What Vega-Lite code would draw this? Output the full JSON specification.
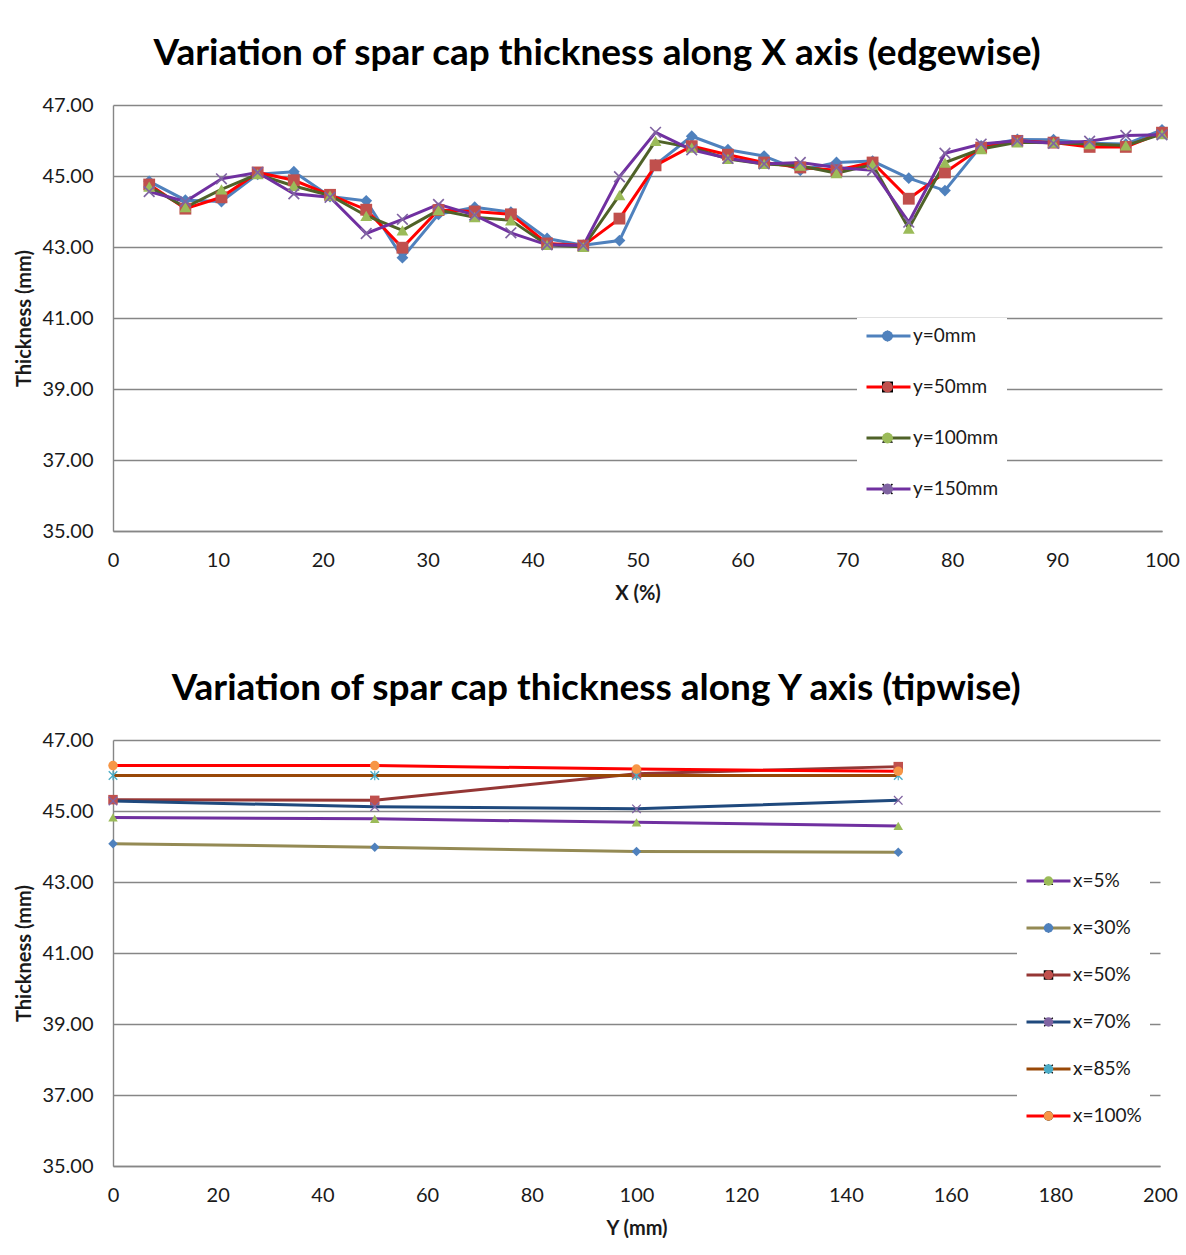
{
  "$schema": "https://vega.github.io/schema/vega-lite/v6.json",
  "background": "white",
  "padding": {"left": 14, "top": 35, "right": 0, "bottom": 0},
  "spacing": 67,
  "config": {
    "font": "Lato",
    "view": {"stroke": null},
    "title": {"font": "Lato", "fontSize": 37, "fontWeight": "bold", "color": "#000000", "anchor": "middle", "frame": "bounds", "offset": 22},
    "axis": {
      "labelFont": "Lato", "labelFontSize": 20, "labelColor": "#1a1a1a",
      "titleFont": "Lato", "titleFontSize": 20, "titleFontWeight": "bold", "titleColor": "#1a1a1a",
      "domainColor": "#868686", "domainWidth": 1.4,
      "gridColor": "#868686", "gridWidth": 1.4, "gridOpacity": 1,
      "ticks": false, "tickSize": 0
    },
    "legend": {"labelFont": "Lato", "labelFontSize": 19, "labelColor": "#1a1a1a"}
  },
  "resolve": {"scale": {"color": "independent", "fill": "independent", "shape": "independent", "x": "independent", "y": "independent"}, "legend": {"color": "independent", "fill": "independent", "shape": "independent"}},
  "vconcat": [
    {
      "width": 1049,
      "height": 426,
      "title": {"text": "Variation of spar cap thickness along X axis (edgewise)"},
      "data": {"values": [
        {"x": 3.45, "series": "y=0mm", "t": 44.85}, {"x": 3.45, "series": "y=50mm", "t": 44.76}, {"x": 3.45, "series": "y=100mm", "t": 44.70}, {"x": 3.45, "series": "y=150mm", "t": 44.56},
        {"x": 6.90, "series": "y=0mm", "t": 44.32}, {"x": 6.90, "series": "y=50mm", "t": 44.08}, {"x": 6.90, "series": "y=100mm", "t": 44.12}, {"x": 6.90, "series": "y=150mm", "t": 44.28},
        {"x": 10.34, "series": "y=0mm", "t": 44.28}, {"x": 10.34, "series": "y=50mm", "t": 44.40}, {"x": 10.34, "series": "y=100mm", "t": 44.62}, {"x": 10.34, "series": "y=150mm", "t": 44.92},
        {"x": 13.79, "series": "y=0mm", "t": 45.05}, {"x": 13.79, "series": "y=50mm", "t": 45.10}, {"x": 13.79, "series": "y=100mm", "t": 45.05}, {"x": 13.79, "series": "y=150mm", "t": 45.10},
        {"x": 17.24, "series": "y=0mm", "t": 45.12}, {"x": 17.24, "series": "y=50mm", "t": 44.88}, {"x": 17.24, "series": "y=100mm", "t": 44.72}, {"x": 17.24, "series": "y=150mm", "t": 44.50},
        {"x": 20.69, "series": "y=0mm", "t": 44.42}, {"x": 20.69, "series": "y=50mm", "t": 44.47}, {"x": 20.69, "series": "y=100mm", "t": 44.45}, {"x": 20.69, "series": "y=150mm", "t": 44.40},
        {"x": 24.14, "series": "y=0mm", "t": 44.30}, {"x": 24.14, "series": "y=50mm", "t": 44.05}, {"x": 24.14, "series": "y=100mm", "t": 43.88}, {"x": 24.14, "series": "y=150mm", "t": 43.38},
        {"x": 27.59, "series": "y=0mm", "t": 42.70}, {"x": 27.59, "series": "y=50mm", "t": 42.98}, {"x": 27.59, "series": "y=100mm", "t": 43.47}, {"x": 27.59, "series": "y=150mm", "t": 43.78},
        {"x": 31.03, "series": "y=0mm", "t": 43.92}, {"x": 31.03, "series": "y=50mm", "t": 44.04}, {"x": 31.03, "series": "y=100mm", "t": 44.04}, {"x": 31.03, "series": "y=150mm", "t": 44.20},
        {"x": 34.48, "series": "y=0mm", "t": 44.12}, {"x": 34.48, "series": "y=50mm", "t": 44.00}, {"x": 34.48, "series": "y=100mm", "t": 43.84}, {"x": 34.48, "series": "y=150mm", "t": 43.90},
        {"x": 37.93, "series": "y=0mm", "t": 43.98}, {"x": 37.93, "series": "y=50mm", "t": 43.92}, {"x": 37.93, "series": "y=100mm", "t": 43.75}, {"x": 37.93, "series": "y=150mm", "t": 43.40},
        {"x": 41.38, "series": "y=0mm", "t": 43.24}, {"x": 41.38, "series": "y=50mm", "t": 43.10}, {"x": 41.38, "series": "y=100mm", "t": 43.06}, {"x": 41.38, "series": "y=150mm", "t": 43.06},
        {"x": 44.83, "series": "y=0mm", "t": 43.05}, {"x": 44.83, "series": "y=50mm", "t": 43.04}, {"x": 44.83, "series": "y=100mm", "t": 43.00}, {"x": 44.83, "series": "y=150mm", "t": 43.04},
        {"x": 48.28, "series": "y=0mm", "t": 43.18}, {"x": 48.28, "series": "y=50mm", "t": 43.80}, {"x": 48.28, "series": "y=100mm", "t": 44.46}, {"x": 48.28, "series": "y=150mm", "t": 44.98},
        {"x": 51.72, "series": "y=0mm", "t": 45.32}, {"x": 51.72, "series": "y=50mm", "t": 45.30}, {"x": 51.72, "series": "y=100mm", "t": 45.99}, {"x": 51.72, "series": "y=150mm", "t": 46.23},
        {"x": 55.17, "series": "y=0mm", "t": 46.12}, {"x": 55.17, "series": "y=50mm", "t": 45.84}, {"x": 55.17, "series": "y=100mm", "t": 45.80}, {"x": 55.17, "series": "y=150mm", "t": 45.74},
        {"x": 58.62, "series": "y=0mm", "t": 45.74}, {"x": 58.62, "series": "y=50mm", "t": 45.60}, {"x": 58.62, "series": "y=100mm", "t": 45.48}, {"x": 58.62, "series": "y=150mm", "t": 45.50},
        {"x": 62.07, "series": "y=0mm", "t": 45.56}, {"x": 62.07, "series": "y=50mm", "t": 45.38}, {"x": 62.07, "series": "y=100mm", "t": 45.34}, {"x": 62.07, "series": "y=150mm", "t": 45.34},
        {"x": 65.52, "series": "y=0mm", "t": 45.16}, {"x": 65.52, "series": "y=50mm", "t": 45.24}, {"x": 65.52, "series": "y=100mm", "t": 45.29}, {"x": 65.52, "series": "y=150mm", "t": 45.38},
        {"x": 68.97, "series": "y=0mm", "t": 45.38}, {"x": 68.97, "series": "y=50mm", "t": 45.16}, {"x": 68.97, "series": "y=100mm", "t": 45.08}, {"x": 68.97, "series": "y=150mm", "t": 45.24},
        {"x": 72.41, "series": "y=0mm", "t": 45.42}, {"x": 72.41, "series": "y=50mm", "t": 45.38}, {"x": 72.41, "series": "y=100mm", "t": 45.32}, {"x": 72.41, "series": "y=150mm", "t": 45.16},
        {"x": 75.86, "series": "y=0mm", "t": 44.94}, {"x": 75.86, "series": "y=50mm", "t": 44.36}, {"x": 75.86, "series": "y=100mm", "t": 43.52}, {"x": 75.86, "series": "y=150mm", "t": 43.70},
        {"x": 79.31, "series": "y=0mm", "t": 44.59}, {"x": 79.31, "series": "y=50mm", "t": 45.10}, {"x": 79.31, "series": "y=100mm", "t": 45.38}, {"x": 79.31, "series": "y=150mm", "t": 45.64},
        {"x": 82.76, "series": "y=0mm", "t": 45.85}, {"x": 82.76, "series": "y=50mm", "t": 45.80}, {"x": 82.76, "series": "y=100mm", "t": 45.76}, {"x": 82.76, "series": "y=150mm", "t": 45.90},
        {"x": 86.21, "series": "y=0mm", "t": 46.03}, {"x": 86.21, "series": "y=50mm", "t": 45.99}, {"x": 86.21, "series": "y=100mm", "t": 45.95}, {"x": 86.21, "series": "y=150mm", "t": 45.99},
        {"x": 89.66, "series": "y=0mm", "t": 46.02}, {"x": 89.66, "series": "y=50mm", "t": 45.94}, {"x": 89.66, "series": "y=100mm", "t": 45.94}, {"x": 89.66, "series": "y=150mm", "t": 45.92},
        {"x": 93.10, "series": "y=0mm", "t": 45.92}, {"x": 93.10, "series": "y=50mm", "t": 45.82}, {"x": 93.10, "series": "y=100mm", "t": 45.90}, {"x": 93.10, "series": "y=150mm", "t": 45.98},
        {"x": 96.55, "series": "y=0mm", "t": 45.90}, {"x": 96.55, "series": "y=50mm", "t": 45.82}, {"x": 96.55, "series": "y=100mm", "t": 45.86}, {"x": 96.55, "series": "y=150mm", "t": 46.14},
        {"x": 100, "series": "y=0mm", "t": 46.30}, {"x": 100, "series": "y=50mm", "t": 46.22}, {"x": 100, "series": "y=100mm", "t": 46.18}, {"x": 100, "series": "y=150mm", "t": 46.16}
      ]},
      "encoding": {
        "x": {"field": "x", "type": "quantitative", "title": "X (%)", "scale": {"domain": [0, 100], "nice": false}, "axis": {"values": [0, 10, 20, 30, 40, 50, 60, 70, 80, 90, 100], "grid": false, "labelPadding": 19, "titlePadding": 13, "labelFlush": false}},
        "y": {"field": "t", "type": "quantitative", "title": "Thickness (mm)", "scale": {"domain": [35, 47], "nice": false, "zero": false}, "axis": {"values": [35, 37, 39, 41, 43, 45, 47], "format": ".2f", "grid": true, "labelPadding": 20, "titlePadding": 7}}
      },
      "layer": [
        {
          "mark": {"type": "line", "strokeWidth": 3},
          "encoding": {
            "color": {"field": "series", "type": "nominal",
              "scale": {"domain": ["y=0mm", "y=50mm", "y=100mm", "y=150mm"], "range": ["#4F81BD", "#FF0000", "#4F6228", "#7030A0"]},
              "legend": {"title": null, "orient": "none", "legendX": 744, "legendY": 213, "padding": 8, "fillColor": "white", "symbolType": "stroke", "symbolSize": 1936, "symbolStrokeWidth": 3, "labelOffset": 1, "clipHeight": 20, "rowPadding": 31}}
          }
        },
        {
          "mark": {"type": "point", "filled": true, "size": 140, "opacity": 1},
          "encoding": {
            "fill": {"field": "series", "type": "nominal", "sort": ["y=0mm", "y=50mm", "y=100mm", "y=150mm"],
              "scale": {"range": ["#4F81BD", "#C0504D", "#9BBB59", "#8064A2"]},
              "legend": {"title": null, "orient": "none", "legendX": 757, "legendY": 213, "padding": 8, "symbolSize": 120, "symbolOpacity": 1, "symbolStrokeWidth": 0, "labelExpr": "''", "labelOpacity": 0, "labelOffset": 0, "clipHeight": 20, "rowPadding": 31}},
            "shape": {"field": "series", "type": "nominal", "sort": ["y=0mm", "y=50mm", "y=100mm", "y=150mm"],
              "scale": {"range": ["diamond", "square", "triangle-up", "M-1,-0.8L-0.8,-1L0,-0.2L0.8,-1L1,-0.8L0.2,0L1,0.8L0.8,1L0,0.2L-0.8,1L-1,0.8L-0.2,0Z"]},
              "legend": {"title": null, "orient": "none", "legendX": 757, "legendY": 213, "padding": 8, "symbolSize": 120, "symbolOpacity": 1, "symbolStrokeWidth": 0, "labelExpr": "''", "labelOpacity": 0, "labelOffset": 0, "clipHeight": 20, "rowPadding": 31}}
          }
        }
      ]
    },
    {
      "width": 1047,
      "height": 426,
      "title": {"text": "Variation of spar cap thickness along Y axis (tipwise)"},
      "data": {"values": [
        {"yy": 0, "series": "x=5%", "t": 44.82}, {"yy": 50, "series": "x=5%", "t": 44.78}, {"yy": 100, "series": "x=5%", "t": 44.68}, {"yy": 150, "series": "x=5%", "t": 44.58},
        {"yy": 0, "series": "x=30%", "t": 44.08}, {"yy": 50, "series": "x=30%", "t": 43.98}, {"yy": 100, "series": "x=30%", "t": 43.86}, {"yy": 150, "series": "x=30%", "t": 43.84},
        {"yy": 0, "series": "x=50%", "t": 45.32}, {"yy": 50, "series": "x=50%", "t": 45.30}, {"yy": 100, "series": "x=50%", "t": 46.05}, {"yy": 150, "series": "x=50%", "t": 46.25},
        {"yy": 0, "series": "x=70%", "t": 45.28}, {"yy": 50, "series": "x=70%", "t": 45.12}, {"yy": 100, "series": "x=70%", "t": 45.06}, {"yy": 150, "series": "x=70%", "t": 45.30},
        {"yy": 0, "series": "x=85%", "t": 46.00}, {"yy": 50, "series": "x=85%", "t": 46.00}, {"yy": 100, "series": "x=85%", "t": 46.00}, {"yy": 150, "series": "x=85%", "t": 46.00},
        {"yy": 0, "series": "x=100%", "t": 46.28}, {"yy": 50, "series": "x=100%", "t": 46.28}, {"yy": 100, "series": "x=100%", "t": 46.18}, {"yy": 150, "series": "x=100%", "t": 46.12}
      ]},
      "encoding": {
        "x": {"field": "yy", "type": "quantitative", "title": "Y (mm)", "scale": {"domain": [0, 200], "nice": false}, "axis": {"values": [0, 20, 40, 60, 80, 100, 120, 140, 160, 180, 200], "grid": false, "labelPadding": 19, "titlePadding": 13, "labelFlush": false}},
        "y": {"field": "t", "type": "quantitative", "title": "Thickness (mm)", "scale": {"domain": [35, 47], "nice": false, "zero": false}, "axis": {"values": [35, 37, 39, 41, 43, 45, 47], "format": ".2f", "grid": true, "labelPadding": 20, "titlePadding": 7}}
      },
      "layer": [
        {
          "mark": {"type": "line", "strokeWidth": 3},
          "encoding": {
            "color": {"field": "series", "type": "nominal",
              "scale": {"domain": ["x=5%", "x=30%", "x=50%", "x=70%", "x=85%", "x=100%"], "range": ["#7030A0", "#948A54", "#953735", "#1F497D", "#984807", "#FF0000"]},
              "legend": {"title": null, "orient": "none", "legendX": 904, "legendY": 123, "padding": 8, "fillColor": "white", "symbolType": "stroke", "symbolSize": 1936, "symbolStrokeWidth": 3, "labelOffset": 1, "clipHeight": 20, "rowPadding": 27}}
          }
        },
        {
          "mark": {"type": "point", "filled": true, "size": 90, "opacity": 1},
          "encoding": {
            "fill": {"field": "series", "type": "nominal", "sort": ["x=5%", "x=30%", "x=50%", "x=70%", "x=85%", "x=100%"],
              "scale": {"range": ["#9BBB59", "#4F81BD", "#C0504D", "#8064A2", "#4BACC6", "#F79646"]},
              "legend": {"title": null, "orient": "none", "legendX": 918, "legendY": 123, "padding": 8, "symbolSize": 90, "symbolOpacity": 1, "symbolStrokeWidth": 0, "labelExpr": "''", "labelOpacity": 0, "labelOffset": 0, "clipHeight": 20, "rowPadding": 27}},
            "shape": {"field": "series", "type": "nominal", "sort": ["x=5%", "x=30%", "x=50%", "x=70%", "x=85%", "x=100%"],
              "scale": {"range": ["triangle-up", "diamond", "square", "M-1,-0.8L-0.8,-1L0,-0.2L0.8,-1L1,-0.8L0.2,0L1,0.8L0.8,1L0,0.2L-0.8,1L-1,0.8L-0.2,0Z", "M-1,-0.8L-0.8,-1L0,-0.2L0.8,-1L1,-0.8L0.2,0L1,0.8L0.8,1L0,0.2L-0.8,1L-1,0.8L-0.2,0ZM-0.12,-1L0.12,-1L0.12,1L-0.12,1Z", "circle"]},
              "legend": {"title": null, "orient": "none", "legendX": 918, "legendY": 123, "padding": 8, "symbolSize": 90, "symbolOpacity": 1, "symbolStrokeWidth": 0, "labelExpr": "''", "labelOpacity": 0, "labelOffset": 0, "clipHeight": 20, "rowPadding": 27}}
          }
        }
      ]
    }
  ]
}
